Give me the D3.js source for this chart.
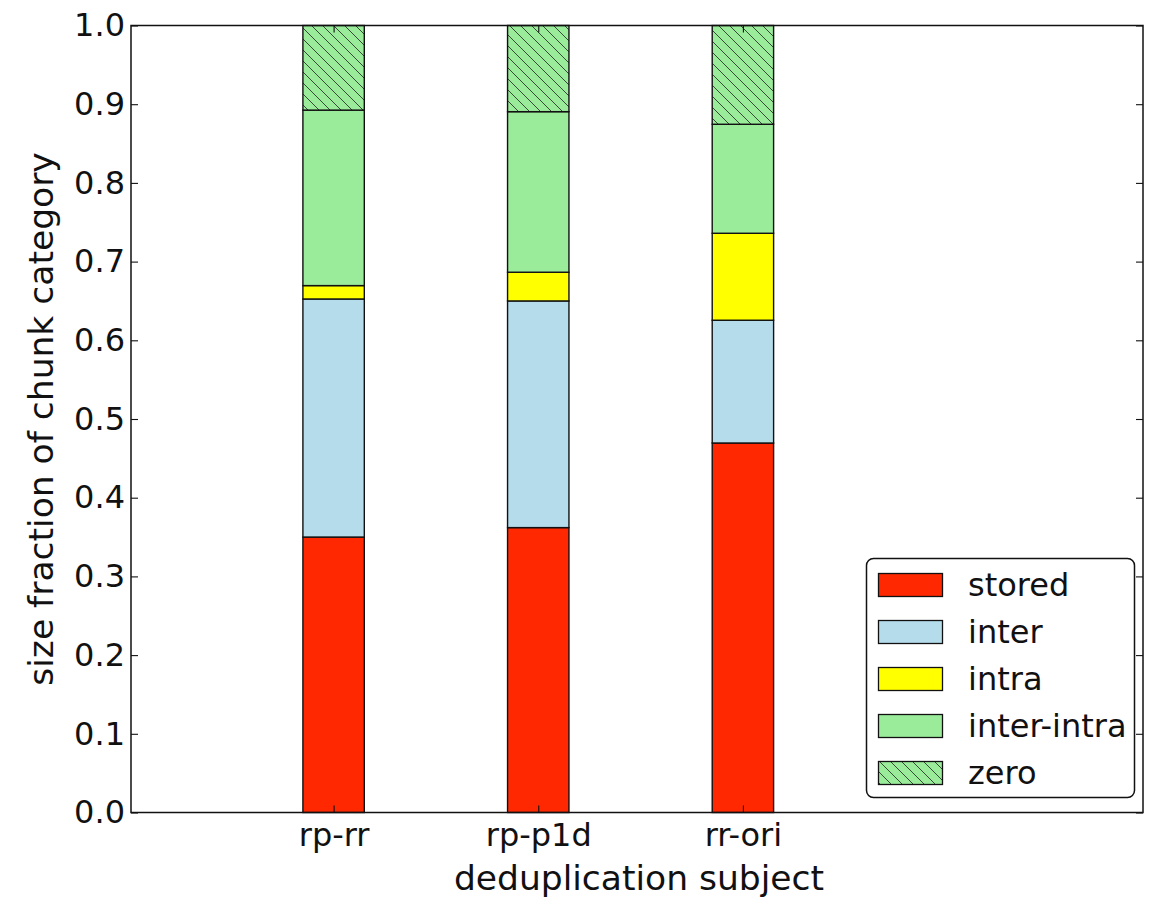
<!DOCTYPE html>
<html>
<head>
<meta charset="utf-8">
<script src="https://cdn.jsdelivr.net/npm/d3@7"></script>
<style>
  html, body { margin: 0; padding: 0; background: #fff; }
  svg { display: block; font-family: "DejaVu Sans", sans-serif; }
</style>
</head>
<body>
<svg id="chart" width="1160" height="900"></svg>
<script>
// Deduplication subjects (x categories)
const categories = ["rp-rr", "rp-p1d", "rr-ori"];

// Size fraction per chunk category, stacked bottom to top
const seriesNames = ["stored", "inter", "intra", "inter-intra", "zero"];
const stored     = [0.350, 0.362, 0.4695];
const inter      = [0.3025, 0.288, 0.156];
const intra      = [0.017, 0.0365, 0.1105];
const interIntra = [0.223, 0.204, 0.1385];
const zero       = [0.1075, 0.1095, 0.1255];

const seriesColors = ["#ff2800", "#b4dceb", "#ffff00", "#9aeb9a", "#9aeb9a"];
const seriesHatched = [false, false, false, false, true];

const yTicks = [0.0, 0.1, 0.2, 0.3, 0.4, 0.5, 0.6, 0.7, 0.8, 0.9, 1.0];

// Build rows for d3.stack from the arrays above
const valuesBySeries = [stored, inter, intra, interIntra, zero];
const rows = categories.map((c, i) => {
  const r = { idx: i, name: c };
  seriesNames.forEach((s, k) => { r[s] = valuesBySeries[k][i]; });
  return r;
});

const svg = d3.select("#chart");
const plot = { left: 131, right: 1143, top: 25.5, bottom: 812.5 };

const x = d3.scaleLinear().domain([-0.99, 3.955]).range([plot.left, plot.right]);
const y = d3.scaleLinear().domain([0, 1]).range([plot.bottom, plot.top]);
const barWidth = 0.3;

// Hatch pattern for the "zero" category
const defs = svg.append("defs");
const hs = 11;
const pat = defs.append("pattern")
  .attr("id", "hatch")
  .attr("patternUnits", "userSpaceOnUse")
  .attr("width", hs).attr("height", hs);
pat.append("rect").attr("width", hs).attr("height", hs).attr("fill", seriesColors[4]);
pat.append("path")
  .attr("d", `M-2,-2 L${hs + 2},${hs + 2} M${-hs - 2},-2 L2,${hs + 2} M${hs - 2},-2 L${2 * hs + 2},${hs + 2}`)
  .attr("stroke", "#2a3a2a").attr("stroke-width", 0.9);

const stack = d3.stack().keys(seriesNames);
const stacked = stack(rows);

// Bars
stacked.forEach((layer, k) => {
  svg.append("g")
    .selectAll("rect")
    .data(layer)
    .join("rect")
    .attr("x", d => x(d.data.idx - barWidth / 2))
    .attr("width", d => x(d.data.idx + barWidth / 2) - x(d.data.idx - barWidth / 2))
    .attr("y", d => y(d[1]))
    .attr("height", d => y(d[0]) - y(d[1]))
    .attr("fill", seriesHatched[k] ? "url(#hatch)" : seriesColors[k])
    .attr("stroke", "#111")
    .attr("stroke-width", 1.4);
});

// Axes frame
svg.append("rect")
  .attr("x", plot.left).attr("y", plot.top)
  .attr("width", plot.right - plot.left).attr("height", plot.bottom - plot.top)
  .attr("fill", "none").attr("stroke", "#111").attr("stroke-width", 1.5);

const tickLen = 7;

// Y axis: inward ticks on both sides, labels on the left
const yAxisL = d3.axisLeft(y).tickValues(yTicks).tickFormat(d3.format(".1f"))
  .tickSizeInner(-tickLen).tickSizeOuter(0).tickPadding(7);
const gyl = svg.append("g").attr("transform", `translate(${plot.left},0)`).call(yAxisL);
gyl.select(".domain").remove();
gyl.selectAll("line").attr("stroke", "#111").attr("stroke-width", 1.1);
gyl.selectAll("text").attr("font-size", 32).attr("fill", "#111")
  .attr("font-family", "DejaVu Sans").attr("x", -6);

const yAxisR = d3.axisRight(y).tickValues(yTicks).tickFormat("")
  .tickSizeInner(-tickLen).tickSizeOuter(0);
const gyr = svg.append("g").attr("transform", `translate(${plot.right},0)`).call(yAxisR);
gyr.select(".domain").remove();
gyr.selectAll("line").attr("stroke", "#111").attr("stroke-width", 1.1);

// X axis: inward ticks at bar centres, labels below
const xAxisB = d3.axisBottom(x).tickValues(categories.map((c, i) => i))
  .tickFormat((d) => categories[d]).tickSizeInner(-tickLen).tickSizeOuter(0);
const gxb = svg.append("g").attr("transform", `translate(0,${plot.bottom})`).call(xAxisB);
gxb.select(".domain").remove();
gxb.selectAll("line").attr("stroke", "#111").attr("stroke-width", 1.1);
gxb.selectAll("text").attr("font-size", 32).attr("fill", "#111")
  .attr("font-family", "DejaVu Sans").attr("y", 33.5).attr("dy", null);

const xAxisT = d3.axisTop(x).tickValues(categories.map((c, i) => i)).tickFormat("")
  .tickSizeInner(-tickLen).tickSizeOuter(0);
const gxt = svg.append("g").attr("transform", `translate(0,${plot.top})`).call(xAxisT);
gxt.select(".domain").remove();
gxt.selectAll("line").attr("stroke", "#111").attr("stroke-width", 1.1);

// Axis titles
svg.append("text")
  .attr("x", (plot.left + plot.right) / 2 + 2).attr("y", 890)
  .attr("text-anchor", "middle").attr("font-size", 34.5).attr("fill", "#111")
  .text("deduplication subject");

svg.append("text")
  .attr("transform", `translate(53,${(plot.top + plot.bottom) / 2}) rotate(-90)`)
  .attr("text-anchor", "middle").attr("font-size", 34.5).attr("fill", "#111")
  .text("size fraction of chunk category");

// Legend
const legend = { x: 866.5, y: 558.5, w: 268, h: 239, rowH: 47, firstRow: 585 };
svg.append("rect")
  .attr("x", legend.x).attr("y", legend.y)
  .attr("width", legend.w).attr("height", legend.h)
  .attr("rx", 7).attr("ry", 7)
  .attr("fill", "#fff").attr("stroke", "#111").attr("stroke-width", 1.5);

const lg = svg.append("g").selectAll("g")
  .data(seriesNames)
  .join("g")
  .attr("transform", (d, i) => `translate(0,${legend.firstRow + i * legend.rowH})`);

lg.append("rect")
  .attr("x", 878.5).attr("y", -11.5).attr("width", 64).attr("height", 23)
  .attr("fill", (d, i) => seriesHatched[i] ? "url(#hatch)" : seriesColors[i])
  .attr("stroke", "#111").attr("stroke-width", 1.3);

lg.append("text")
  .attr("x", 968).attr("y", 11)
  .attr("font-size", 32).attr("fill", "#111")
  .text(d => d);
</script>
</body>
</html>
